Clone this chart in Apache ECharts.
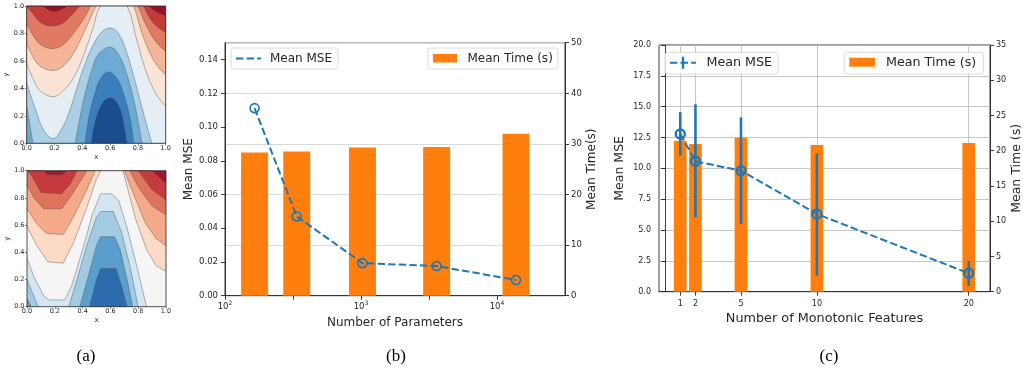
<!DOCTYPE html>
<html>
<head>
<meta charset="utf-8">
<script src="https://cdn.jsdelivr.net/npm/echarts@6/dist/echarts.min.js"></script>
<style>
  html, body { margin: 0; padding: 0; background: #fff; }
  #chart { width: 1023px; height: 375px; }
</style>
</head>
<body>
<div id="chart"></div>
<script>
// ---- panel (b): parameters sweep
const paramCounts = [165, 337, 1025, 3600, 13800];
const mseByParams = [0.1112, 0.047, 0.0193, 0.0176, 0.0093];
const timeByParams = [28.3, 28.5, 29.3, 29.4, 32.0];
const paramTicks = [100, 316, 1000, 3162, 10000];
const paramLabels = [100, 1000, 10000];

// ---- panel (c): monotonic features sweep
const monoFeatures = [1, 2, 5, 10, 20];
const mseByFeatures = [12.78, 10.57, 9.81, 6.3, 1.49];
const mseLow = [11.03, 6.03, 5.49, 1.3, 0.49];
const mseHigh = [14.55, 15.19, 14.14, 11.22, 2.51];
const timeByFeatures = [21.4, 20.95, 21.85, 20.8, 21.1];

// ---- panel (a): contour boundaries, [x, y] points
const topB9 = [[0,1.1],[0.08,1.05],[0.12,1.0],[0.16,0.97],[0.2,0.96],[0.25,0.975],[0.29,1.0],[0.33,1.06],[0.5,1.2],[0.75,1.15],[0.84,1.06],[0.88,1.0],[0.94,0.955],[1.0,0.93]];
const topB8 = [[0,1.0],[0.04,0.95],[0.1,0.88],[0.18,0.855],[0.25,0.87],[0.31,0.92],[0.38,1.0],[0.42,1.06],[0.55,1.2],[0.75,1.15],[0.84,1.0],[0.9,0.89],[0.95,0.84],[1.0,0.81]];
const topB7 = [[0,0.87],[0.05,0.78],[0.1,0.72],[0.18,0.69],[0.25,0.71],[0.32,0.78],[0.4,0.89],[0.46,1.0],[0.52,1.12],[0.63,1.2],[0.74,1.1],[0.8,1.0],[0.86,0.86],[0.93,0.74],[1.0,0.67]];
const topB6 = [[0,0.73],[0.05,0.62],[0.1,0.56],[0.19,0.53],[0.27,0.57],[0.35,0.68],[0.43,0.85],[0.5,1.0],[0.56,1.1],[0.66,1.12],[0.72,1.08],[0.77,1.0],[0.83,0.8],[0.9,0.63],[0.95,0.55],[1.0,0.5]];
const topB5 = [[0,0.58],[0.05,0.46],[0.1,0.38],[0.19,0.34],[0.27,0.39],[0.35,0.5],[0.42,0.67],[0.48,0.85],[0.53,1.0],[0.62,1.07],[0.72,1.0],[0.79,0.76],[0.86,0.52],[0.93,0.36],[1.0,0.27]];
const topB4 = [[0,0.44],[0.035,0.33],[0.07,0.23],[0.12,0.1],[0.19,0.035],[0.26,0.12],[0.31,0.24],[0.36,0.4],[0.42,0.58],[0.48,0.72],[0.54,0.81],[0.6,0.84],[0.66,0.8],[0.72,0.66],[0.78,0.45],[0.84,0.22],[0.9,0]];
const topB3a = [[0,0.27],[0.02,0.15],[0.045,0]];
const topB3b = [[0.35,0],[0.38,0.17],[0.42,0.36],[0.47,0.54],[0.52,0.655],[0.6,0.7],[0.67,0.63],[0.73,0.47],[0.78,0.27],[0.83,0]];
const topB2 = [[0.42,0],[0.45,0.2],[0.49,0.36],[0.53,0.47],[0.59,0.52],[0.65,0.47],[0.7,0.35],[0.74,0.2],[0.77,0]];
const topB1 = [[0.465,0],[0.48,0.1],[0.52,0.24],[0.56,0.31],[0.6,0.33],[0.64,0.31],[0.68,0.22],[0.705,0.1],[0.72,0]];
const topBands = ['#1a4d8c','#3a7fbb','#6dabd4','#abd0e6','#e4eef4','#fbe3d5','#f6b597','#e07a62','#c43b3c','#961127'];

const botB9 = [[0,1.1],[0.12,1.0],[0.15,0.97],[0.25,0.97],[0.29,1.0],[0.4,1.1],[0.8,1.1],[0.9,1.0],[1.0,0.907]];
const botB8 = [[0,1.0],[0.03,0.97],[0.1,0.84],[0.25,0.83],[0.31,0.9],[0.36,1.0],[0.4,1.1],[0.75,1.1],[0.8,1.0],[0.9,0.86],[1.0,0.785]];
const botB7 = [[0,0.89],[0.05,0.8],[0.12,0.72],[0.25,0.72],[0.32,0.82],[0.4,0.95],[0.43,1.0],[0.5,1.1],[0.7,1.1],[0.74,1.0],[0.8,0.88],[0.9,0.74],[1.0,0.675]];
const botB6 = [[0,0.72],[0.07,0.61],[0.14,0.54],[0.26,0.53],[0.33,0.65],[0.42,0.84],[0.49,1.0],[0.55,1.1],[0.66,1.1],[0.7,1.0],[0.77,0.82],[0.85,0.62],[0.93,0.5],[1.0,0.45]];
const botB5 = [[0,0.59],[0.07,0.45],[0.15,0.33],[0.26,0.32],[0.33,0.46],[0.42,0.7],[0.5,0.94],[0.53,1.0],[0.6,1.05],[0.69,1.0],[0.78,0.65],[0.86,0.42],[0.93,0.3],[1.0,0.26]];
const botB4 = [[0,0.36],[0.05,0.22],[0.12,0.08],[0.16,0.05],[0.27,0.05],[0.32,0.15],[0.4,0.42],[0.47,0.68],[0.53,0.83],[0.61,0.83],[0.66,0.78],[0.72,0.58],[0.79,0.3],[0.86,0]];
const botB3a = [[0,0.2],[0.04,0.1],[0.08,0]];
const botB3b = [[0.3,0],[0.36,0.2],[0.43,0.45],[0.5,0.66],[0.53,0.7],[0.62,0.7],[0.68,0.55],[0.74,0.3],[0.8,0]];
const botB2a = [[0,0.06],[0.03,0]];
const botB2b = [[0.38,0],[0.44,0.22],[0.5,0.45],[0.53,0.515],[0.63,0.515],[0.67,0.42],[0.72,0.2],[0.76,0]];
const botB1 = [[0.45,0],[0.5,0.2],[0.53,0.28],[0.64,0.28],[0.68,0.15],[0.72,0]];
const botBands = ['#2c6bae','#5a9ecb','#a2cae2','#d4e6f1','#f5f5f5','#fcdac6','#f4a988','#de745e','#c43a3d','#9c1730'];

const FONT = 'DejaVu Sans';
const INK = '#262626';
const BLUE = '#1f77b4';
const ORANGE = '#ff7f0e';

// curve list: [index of the band that lies under the curve, points]
const topCurves = [[8, topB9], [7, topB8], [6, topB7], [5, topB6], [4, topB5], [3, topB4], [2, topB3a], [2, topB3b], [1, topB2], [0, topB1]];
const botCurves = [[8, botB9], [7, botB8], [6, botB7], [5, botB6], [4, botB5], [3, botB4], [2, botB3a], [2, botB3b], [1, botB2a], [1, botB2b], [0, botB1]];

const contourSeries = (curves, bands, axisIdx, smooth) => curves.map(([band, pts]) => ({
    type: 'line',
    xAxisIndex: axisIdx,
    yAxisIndex: axisIdx,
    data: pts,
    smooth: smooth,
    symbol: 'none',
    silent: true,
    clip: true,
    lineStyle: { color: '#4a4a4a', width: 0.5, opacity: 0.8 },
    areaStyle: { color: bands[band], opacity: 1, origin: 'start' },
}));

const txt = (size) => ({ fontFamily: FONT, fontSize: size, color: INK });

const unitAxis = (grid, name, nameGap, isY) => ({
    gridIndex: grid,
    type: 'value',
    min: 0,
    max: 1,
    interval: 0.2,
    name: name,
    nameLocation: 'middle',
    nameGap: nameGap,
    nameTextStyle: txt(7),
    axisLine: { show: false },
    axisTick: { length: 2, lineStyle: { color: INK, width: 0.6 } },
    axisLabel: { ...txt(6.5), margin: isY ? 2.5 : 1.5, formatter: (v) => v.toFixed(1) },
    splitLine: { show: false },
});

const grids = [
    { left: 26.7, top: 6, width: 139, height: 137.3, show: true, backgroundColor: topBands[9], borderWidth: 0 },
    { left: 27, top: 170.7, width: 139, height: 136, show: true, backgroundColor: botBands[9], borderWidth: 0 },
    { left: 225, top: 42.7, width: 340, height: 253, show: true, borderColor: INK, borderWidth: 0.9 },
    { left: 659, top: 45, width: 331, height: 246.7, show: true, borderColor: INK, borderWidth: 0.9 },
].map(g => ({ ...g, containLabel: false, outerBoundsMode: 'none' }));

const plainLine = { show: true, lineStyle: { color: INK, width: 0.9 } };
const outTick = { show: true, length: 4, lineStyle: { color: INK, width: 0.9 } };

const option = {
    animation: false,
    backgroundColor: '#fff',
    grid: grids,
    xAxis: [
        unitAxis(0, 'x', 10, false),
        unitAxis(1, 'x', 10, false),
        {
            gridIndex: 2,
            type: 'log',
            logBase: 10,
            min: 100,
            max: 31623,
            name: 'Number of Parameters',
            nameLocation: 'middle',
            nameGap: 17,
            nameTextStyle: txt(12),
            axisLine: plainLine,
            axisTick: { ...outTick, customValues: paramTicks },
            axisLabel: {
                customValues: paramLabels,
                margin: 5,
                formatter: (v) => '{b|10}{s|' + Math.round(Math.log10(v)) + '}',
                rich: {
                    b: { ...txt(8.5), verticalAlign: 'bottom' },
                    s: { ...txt(6), verticalAlign: 'bottom', padding: [0, 0, 5, 0] },
                },
            },
            splitLine: { show: false },
        },
        {
            gridIndex: 3,
            type: 'value',
            min: -0.4,
            max: 21.4,
            name: 'Number of Monotonic Features',
            nameLocation: 'middle',
            nameGap: 18,
            nameTextStyle: txt(12.8),
            axisLine: plainLine,
            axisTick: { ...outTick, customValues: monoFeatures },
            axisLabel: { ...txt(8), margin: 8, customValues: monoFeatures },
            splitLine: { show: true, lineStyle: { color: '#b8b8b8', width: 0.8 } },
        },
    ],
    yAxis: [
        unitAxis(0, 'y', 16, true),
        unitAxis(1, 'y', 16, true),
        {
            gridIndex: 2,
            type: 'value',
            min: 0,
            max: 0.15,
            name: 'Mean MSE',
            nameLocation: 'middle',
            nameGap: 30,
            nameTextStyle: txt(12),
            axisLine: plainLine,
            axisTick: { ...outTick, customValues: [0, 0.02, 0.04, 0.06, 0.08, 0.1, 0.12, 0.14] },
            axisLabel: { ...txt(8.5), margin: 7, customValues: [0, 0.02, 0.04, 0.06, 0.08, 0.1, 0.12, 0.14], formatter: (v) => v.toFixed(2) },
            splitLine: { show: false },
        },
        {
            gridIndex: 2,
            type: 'value',
            position: 'right',
            min: 0,
            max: 50,
            interval: 10,
            name: 'Mean Time(s)',
            nameLocation: 'middle',
            nameGap: 19,
            nameTextStyle: txt(12),
            axisLine: plainLine,
            axisTick: outTick,
            axisLabel: { ...txt(8.5), margin: 6 },
            splitLine: { show: true, lineStyle: { color: '#cfcfcf', width: 0.8 } },
        },
        {
            gridIndex: 3,
            type: 'value',
            min: 0,
            max: 20,
            interval: 2.5,
            name: 'Mean MSE',
            nameLocation: 'middle',
            nameGap: 33,
            nameTextStyle: txt(12.5),
            axisLine: plainLine,
            axisTick: outTick,
            axisLabel: { ...txt(8), margin: 8, formatter: (v) => v.toFixed(1) },
            splitLine: { show: true, lineStyle: { color: '#b8b8b8', width: 0.8 } },
        },
        {
            gridIndex: 3,
            type: 'value',
            position: 'right',
            min: 0,
            max: 35,
            interval: 5,
            name: 'Mean Time (s)',
            nameLocation: 'middle',
            nameGap: 20,
            nameTextStyle: txt(12.5),
            axisLine: plainLine,
            axisTick: outTick,
            axisLabel: { ...txt(8), margin: 6 },
            splitLine: { show: false },
        },
    ],
    series: [
        ...contourSeries(topCurves, topBands, 0, 0.4),
        ...contourSeries(botCurves, botBands, 1, false),
        {
            name: 'Mean Time (s)',
            type: 'bar',
            xAxisIndex: 2,
            yAxisIndex: 3,
            barWidth: 27,
            itemStyle: { color: ORANGE },
            data: paramCounts.map((p, i) => [p, timeByParams[i]]),
        },
        {
            name: 'Mean MSE',
            type: 'line',
            xAxisIndex: 2,
            yAxisIndex: 2,
            symbol: 'circle',
            symbolSize: 9,
            itemStyle: { color: 'rgba(0,0,0,0)', borderColor: BLUE, borderWidth: 1.6 },
            lineStyle: { color: BLUE, width: 2, type: [7.4, 3.2] },
            data: paramCounts.map((p, i) => [p, mseByParams[i]]),
            z: 4,
        },
        {
            name: 'Mean Time (s)',
            type: 'bar',
            xAxisIndex: 3,
            yAxisIndex: 5,
            barWidth: 12.7,
            itemStyle: { color: ORANGE },
            data: monoFeatures.map((f, i) => [f, timeByFeatures[i]]),
        },
        {
            name: 'Mean MSE',
            type: 'custom',
            xAxisIndex: 3,
            yAxisIndex: 4,
            encode: { x: 0, y: [1, 2] },
            data: monoFeatures.map((f, i) => [f, mseLow[i], mseHigh[i]]),
            renderItem: (params, api) => {
                const lo = api.coord([api.value(0), api.value(1)]);
                const hi = api.coord([api.value(0), api.value(2)]);
                return {
                    type: 'line',
                    shape: { x1: lo[0], y1: lo[1], x2: hi[0], y2: hi[1] },
                    style: { stroke: BLUE, lineWidth: 2.6 },
                };
            },
            z: 4,
        },
        {
            name: 'Mean MSE',
            type: 'line',
            xAxisIndex: 3,
            yAxisIndex: 4,
            symbol: 'circle',
            symbolSize: 9,
            itemStyle: { color: 'rgba(0,0,0,0)', borderColor: BLUE, borderWidth: 2.4 },
            lineStyle: { color: BLUE, width: 2, type: [7.4, 3.2] },
            data: monoFeatures.map((f, i) => [f, mseByFeatures[i]]),
            z: 5,
        },
    ],
    graphic: [
        // frames of the two contour maps
        { type: 'rect', z: 100, silent: true, shape: { x: 26.7, y: 6, width: 139, height: 137.3 }, style: { fill: 'none', stroke: INK, lineWidth: 0.8 } },
        { type: 'rect', z: 100, silent: true, shape: { x: 27, y: 170.7, width: 139, height: 136 }, style: { fill: 'none', stroke: INK, lineWidth: 0.8 } },

        // legends of panel (b)
        { type: 'rect', z: 100, shape: { x: 231, y: 48, width: 107, height: 21, r: 2.5 }, style: { fill: 'rgba(255,255,255,0.85)', stroke: '#d0d0d0', lineWidth: 0.8 } },
        { type: 'line', z: 101, shape: { x1: 236, y1: 58.5, x2: 261, y2: 58.5 }, style: { stroke: BLUE, lineWidth: 2, lineDash: [7.4, 3.2] } },
        { type: 'text', z: 101, style: { text: 'Mean MSE', x: 270, y: 58.5, fontFamily: FONT, fontSize: 12, fill: INK, verticalAlign: 'middle' } },
        { type: 'rect', z: 100, shape: { x: 428, y: 48, width: 130, height: 21, r: 2.5 }, style: { fill: 'rgba(255,255,255,0.85)', stroke: '#d0d0d0', lineWidth: 0.8 } },
        { type: 'rect', z: 101, shape: { x: 433, y: 54, width: 24, height: 8.5 }, style: { fill: ORANGE } },
        { type: 'text', z: 101, style: { text: 'Mean Time (s)', x: 467.5, y: 58.5, fontFamily: FONT, fontSize: 12, fill: INK, verticalAlign: 'middle' } },

        // legends of panel (c)
        { type: 'rect', z: 100, shape: { x: 665, y: 52.3, width: 113, height: 21.7, r: 2.5 }, style: { fill: 'rgba(255,255,255,0.85)', stroke: '#d0d0d0', lineWidth: 0.8 } },
        { type: 'line', z: 101, shape: { x1: 670, y1: 62.7, x2: 696, y2: 62.7 }, style: { stroke: BLUE, lineWidth: 2, lineDash: [7.4, 3.2] } },
        { type: 'line', z: 101, shape: { x1: 683, y1: 56.7, x2: 683, y2: 68.7 }, style: { stroke: BLUE, lineWidth: 2.4 } },
        { type: 'text', z: 101, style: { text: 'Mean MSE', x: 706.5, y: 62.7, fontFamily: FONT, fontSize: 12.7, fill: INK, verticalAlign: 'middle' } },
        { type: 'rect', z: 100, shape: { x: 844.3, y: 52.3, width: 139, height: 21.7, r: 2.5 }, style: { fill: 'rgba(255,255,255,0.85)', stroke: '#d0d0d0', lineWidth: 0.8 } },
        { type: 'rect', z: 101, shape: { x: 849.3, y: 57.7, width: 25.7, height: 9 }, style: { fill: ORANGE } },
        { type: 'text', z: 101, style: { text: 'Mean Time (s)', x: 886, y: 62.7, fontFamily: FONT, fontSize: 12.7, fill: INK, verticalAlign: 'middle' } },

        // captions
        { type: 'text', style: { text: '(a)', x: 86, y: 357, fontFamily: 'Liberation Serif', fontSize: 17, fill: '#000', align: 'center', verticalAlign: 'middle' } },
        { type: 'text', style: { text: '(b)', x: 396, y: 357, fontFamily: 'Liberation Serif', fontSize: 17, fill: '#000', align: 'center', verticalAlign: 'middle' } },
        { type: 'text', style: { text: '(c)', x: 829, y: 357, fontFamily: 'Liberation Serif', fontSize: 17, fill: '#000', align: 'center', verticalAlign: 'middle' } },
    ],
};

const chart = echarts.init(document.getElementById('chart'), null, { renderer: 'canvas' });
chart.setOption(option);
</script>
</body>
</html>
